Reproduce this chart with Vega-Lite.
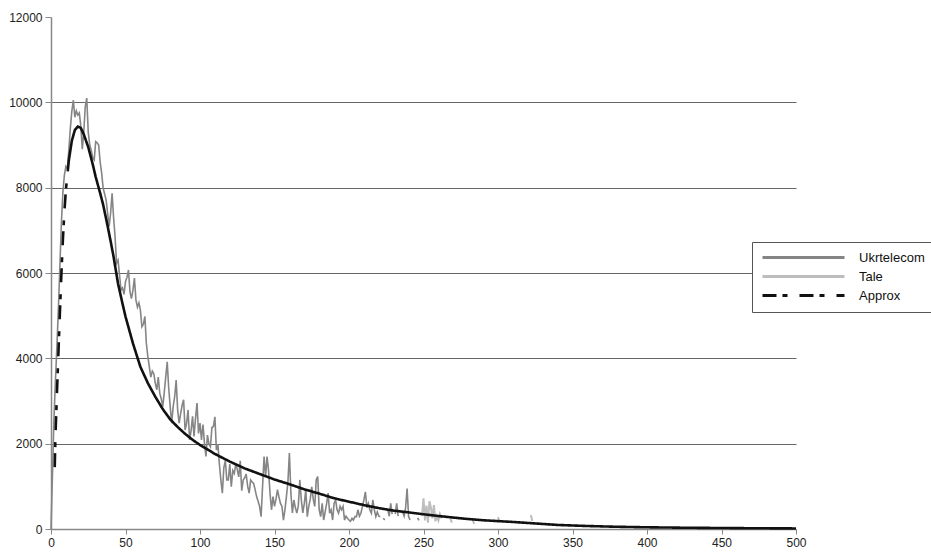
{
  "$schema": "https://vega.github.io/schema/vega-lite/v6.json",
  "width": 745,
  "height": 512,
  "autosize": {"type": "none"},
  "padding": {"left": 51, "top": 17, "right": 135, "bottom": 24},
  "background": "white",
  "config": {
    "font": "Liberation Sans",
    "view": {"stroke": null},
    "mark": {"invalid": "break-paths-filter-domains"}
  },
  "datasets": {
    "ukr": [
      {"x":0,"y":0},{"x":1,"y":1300},{"x":2,"y":2600},{"x":3,"y":3500},{"x":4,"y":4300},{"x":5,"y":5200},{"x":6,"y":6200},{"x":7,"y":7200},{"x":8,"y":7900},{"x":9,"y":8300},
      {"x":10,"y":8500},{"x":11,"y":8450},{"x":12,"y":8900},{"x":13,"y":9400},{"x":14,"y":9800},{"x":15,"y":10050},{"x":16,"y":9650},{"x":17,"y":9800},{"x":18,"y":9700},{"x":19,"y":9750},
      {"x":20,"y":9450},{"x":21,"y":8900},{"x":22,"y":9300},{"x":23,"y":9900},{"x":24,"y":10100},{"x":25,"y":9300},{"x":26,"y":9000},{"x":27,"y":8880},{"x":28,"y":8700},{"x":29,"y":8650},
      {"x":30,"y":9080},{"x":31,"y":9050},{"x":32,"y":9000},{"x":33,"y":8600},{"x":34,"y":8340},{"x":35,"y":7990},{"x":36,"y":7850},{"x":37,"y":7710},{"x":38,"y":7400},{"x":39,"y":7090},
      {"x":40,"y":7400},{"x":41,"y":7870},{"x":42,"y":7300},{"x":43,"y":6850},{"x":44,"y":6230},{"x":45,"y":6300},{"x":46,"y":5950},{"x":47,"y":5600},{"x":48,"y":5650},{"x":49,"y":5500},
      {"x":50,"y":5800},{"x":51,"y":5900},{"x":52,"y":6070},{"x":53,"y":5560},{"x":54,"y":5400},{"x":55,"y":5600},{"x":56,"y":5880},{"x":57,"y":5370},{"x":58,"y":5200},{"x":59,"y":5300},
      {"x":60,"y":5130},{"x":61,"y":4740},{"x":62,"y":4800},{"x":63,"y":4980},{"x":64,"y":4350},{"x":65,"y":4040},{"x":66,"y":3800},{"x":67,"y":3560},{"x":68,"y":3700},{"x":69,"y":3640},
      {"x":70,"y":3415},{"x":71,"y":3260},{"x":72,"y":3560},{"x":73,"y":3180},{"x":74,"y":3050},{"x":75,"y":2870},{"x":76,"y":3200},{"x":77,"y":3560},{"x":78,"y":3920},{"x":79,"y":3300},
      {"x":80,"y":2870},{"x":81,"y":2480},{"x":82,"y":2870},{"x":83,"y":3100},{"x":84,"y":3490},{"x":85,"y":2790},{"x":86,"y":2480},{"x":87,"y":2700},{"x":88,"y":2900},{"x":89,"y":3030},
      {"x":90,"y":2320},{"x":91,"y":2480},{"x":92,"y":2790},{"x":93,"y":2090},{"x":94,"y":2300},{"x":95,"y":2640},{"x":96,"y":2170},{"x":97,"y":2600},{"x":98,"y":2950},{"x":99,"y":2240},
      {"x":100,"y":2480},{"x":101,"y":2090},{"x":102,"y":2450},{"x":103,"y":2010},{"x":104,"y":1700},{"x":105,"y":2200},{"x":106,"y":1990},{"x":107,"y":1930},{"x":108,"y":2380},{"x":109,"y":2400},
      {"x":110,"y":2630},{"x":111,"y":1850},{"x":112,"y":1990},{"x":113,"y":1520},{"x":114,"y":1150},{"x":115,"y":840},{"x":116,"y":1440},{"x":117,"y":1600},{"x":118,"y":1150},{"x":119,"y":1150},
      {"x":120,"y":1520},{"x":121,"y":990},{"x":122,"y":1370},{"x":123,"y":1300},{"x":124,"y":1520},{"x":125,"y":1400},{"x":126,"y":1220},{"x":127,"y":1600},{"x":128,"y":900},{"x":129,"y":1150},
      {"x":130,"y":1200},{"x":131,"y":1290},{"x":132,"y":1000},{"x":133,"y":840},{"x":134,"y":1150},{"x":135,"y":1100},{"x":136,"y":1070},{"x":137,"y":920},{"x":138,"y":760},{"x":139,"y":650},
      {"x":140,"y":530},{"x":141,"y":290},{"x":142,"y":1000},{"x":143,"y":1700},{"x":144,"y":1220},{"x":145,"y":1700},{"x":146,"y":1370},{"x":147,"y":840},{"x":148,"y":450},{"x":149,"y":760},
      {"x":150,"y":530},{"x":151,"y":700},{"x":152,"y":920},{"x":153,"y":750},{"x":154,"y":600},{"x":155,"y":530},{"x":156,"y":210},{"x":157,"y":450},{"x":158,"y":760},{"x":159,"y":1100},
      {"x":160,"y":1780},{"x":161,"y":840},{"x":162,"y":375},{"x":163,"y":680},{"x":164,"y":500},{"x":165,"y":375},{"x":166,"y":550},{"x":167,"y":1150},{"x":168,"y":680},{"x":169,"y":375},
      {"x":170,"y":600},{"x":171,"y":920},{"x":172,"y":290},{"x":173,"y":530},{"x":174,"y":700},{"x":175,"y":990},{"x":176,"y":700},{"x":177,"y":530},{"x":178,"y":1150},{"x":179,"y":1230},
      {"x":180,"y":450},{"x":181,"y":290},{"x":182,"y":600},{"x":183,"y":210},{"x":184,"y":400},{"x":185,"y":600},{"x":186,"y":840},{"x":187,"y":370},{"x":188,"y":450},{"x":189,"y":210},
      {"x":190,"y":600},{"x":191,"y":680},{"x":192,"y":450},{"x":193,"y":370},{"x":194,"y":530},{"x":195,"y":450},{"x":196,"y":530},{"x":197,"y":210},{"x":198,"y":300},{"x":199,"y":250},
      {"x":200,"y":210},{"x":201,"y":180},{"x":202,"y":250},{"x":203,"y":210},{"x":204,"y":290},{"x":205,"y":290},{"x":206,"y":450},{"x":207,"y":300},{"x":208,"y":370},{"x":209,"y":530},
      {"x":210,"y":680},{"x":211,"y":870},{"x":212,"y":500},{"x":213,"y":600},{"x":214,"y":450},{"x":215,"y":370},{"x":216,"y":680},{"x":217,"y":450},{"x":218,"y":290},{"x":219,"y":400},
      {"x":220,"y":300},{"x":221,"y":290},{"x":222,"y":null},{"x":223,"y":250},{"x":224,"y":210},{"x":225,"y":null},{"x":226,"y":450},{"x":227,"y":300},{"x":228,"y":600},{"x":229,"y":350},
      {"x":230,"y":null},{"x":231,"y":350},{"x":232,"y":600},{"x":233,"y":300},{"x":234,"y":null},{"x":236,"y":400},{"x":237,"y":300},{"x":238,"y":500},{"x":239,"y":950},{"x":240,"y":290},
      {"x":241,"y":210},{"x":242,"y":null},{"x":246,"y":260},{"x":247,"y":200}
    ],
    "tale": [
      {"x":249,"y":300},{"x":250,"y":720},{"x":251,"y":200},{"x":252,"y":550},{"x":253,"y":150},{"x":254,"y":650},{"x":255,"y":500},{"x":256,"y":250},{"x":257,"y":560},{"x":258,"y":180},
      {"x":259,"y":300},{"x":260,"y":200},{"x":261,"y":350},{"x":262,"y":250},{"x":263,"y":null},
      {"x":268,"y":250},{"x":269,"y":150},{"x":270,"y":null},
      {"x":283,"y":220},{"x":284,"y":120},{"x":285,"y":null},
      {"x":300,"y":280},{"x":301,"y":180},{"x":302,"y":null},
      {"x":322,"y":330},{"x":323,"y":190}
    ],
    "approx": [
      {"x":2.5,"y":1450},{"x":3,"y":2200},{"x":4,"y":3200},{"x":5,"y":4150},{"x":6,"y":5100},{"x":7,"y":6000},{"x":8,"y":6800},{"x":9,"y":7450},{"x":10,"y":7950},
      {"x":12,"y":8650},{"x":14,"y":9100},{"x":16,"y":9350},{"x":18,"y":9430},{"x":20,"y":9400},{"x":22,"y":9250},{"x":25,"y":8950},{"x":28,"y":8550},{"x":30,"y":8250},
      {"x":33,"y":7870},{"x":35,"y":7600},{"x":38,"y":7100},{"x":40,"y":6750},{"x":42,"y":6380},{"x":45,"y":5750},{"x":48,"y":5280},{"x":50,"y":4980},{"x":55,"y":4350},{"x":60,"y":3800},{"x":65,"y":3420},{"x":70,"y":3100},
      {"x":75,"y":2810},{"x":80,"y":2570},{"x":85,"y":2390},
      {"x":90,"y":2230},{"x":95,"y":2090},{"x":100,"y":1970},{"x":110,"y":1760},{"x":120,"y":1580},{"x":130,"y":1420},{"x":140,"y":1290},{"x":150,"y":1160},{"x":160,"y":1050},{"x":170,"y":930},
      {"x":180,"y":830},{"x":190,"y":720},{"x":200,"y":640},{"x":210,"y":560},{"x":220,"y":490},{"x":230,"y":430},{"x":240,"y":390},{"x":250,"y":345},{"x":260,"y":305},
      {"x":275,"y":250},{"x":290,"y":205},{"x":300,"y":185},{"x":310,"y":165},{"x":325,"y":130},{"x":340,"y":95},{"x":360,"y":70},{"x":380,"y":52},{"x":400,"y":40},
      {"x":425,"y":30},{"x":450,"y":23},{"x":475,"y":17},{"x":500,"y":13}
    ]
  },
  "encoding": {
    "x": {
      "field": "x", "type": "quantitative",
      "scale": {"domain": [0, 500], "nice": false},
      "axis": {
        "title": null, "values": [0,50,100,150,200,250,300,350,400,450,500],
        "grid": false, "domainColor": "#888", "domainWidth": 1.5, "tickColor": "#888", "tickSize": 5,
        "labelFontSize": 12, "labelColor": "#222", "labelPadding": 3, "labelFlush": false
      }
    },
    "y": {
      "field": "y", "type": "quantitative",
      "scale": {"domain": [0, 12000], "nice": false},
      "axis": {
        "title": null, "values": [0,2000,4000,6000,8000,10000,12000],
        "grid": true, "gridColor": "#666", "gridWidth": 1,
        "gridOpacity": {"condition": {"test": "datum.value == 0 || datum.value == 12000", "value": 0}, "value": 1},
        "domainColor": "#888", "domainWidth": 1.5, "tickColor": "#888", "tickSize": 6,
        "labelFontSize": 12, "labelColor": "#222", "labelPadding": 3, "format": "d"
      }
    },
    "color": {
      "field": "series", "type": "nominal",
      "scale": {"domain": ["Ukrtelecom", "Tale", "Approx"], "range": ["#858585", "#bdbdbd", "#111111"]},
      "legend": {
        "title": null, "orient": "none", "legendX": 701, "legendY": 225,
        "symbolType": "M-1,0H15.4", "symbolSize": 100, "symbolStrokeWidth": 3,
        "symbolFillColor": "transparent",
        "labelFontSize": 13, "labelColor": "#111", "labelOffset": 85,
        "strokeColor": "#555", "fillColor": "white", "padding": 9,
        "rowPadding": 5
      }
    },
    "strokeDash": {
      "field": "series", "type": "nominal",
      "scale": {"domain": ["Ukrtelecom", "Tale", "Approx"], "range": [[1, 0], [1, 0], [14, 6, 5, 12]]},
      "legend": null
    }
  },
  "layer": [
    {
      "data": {"name": "tale"},
      "transform": [{"calculate": "'Tale'", "as": "series"}],
      "mark": {"type": "line", "strokeWidth": 2}
    },
    {
      "data": {"name": "ukr"},
      "transform": [{"calculate": "'Ukrtelecom'", "as": "series"}],
      "mark": {"type": "line", "strokeWidth": 1.6}
    },
    {
      "data": {"name": "approx"},
      "transform": [{"calculate": "'Approx'", "as": "series"}, {"filter": "datum.x <= 12"}],
      "mark": {"type": "line", "strokeWidth": 2.6}
    },
    {
      "data": {"name": "approx"},
      "transform": [{"calculate": "'Approx'", "as": "series"}, {"filter": "datum.x >= 12"}],
      "mark": {"type": "line", "strokeWidth": 2.6, "strokeDash": [1, 0]},
      "encoding": {"strokeDash": {"value": [1, 0]}}
    }
  ]
}
